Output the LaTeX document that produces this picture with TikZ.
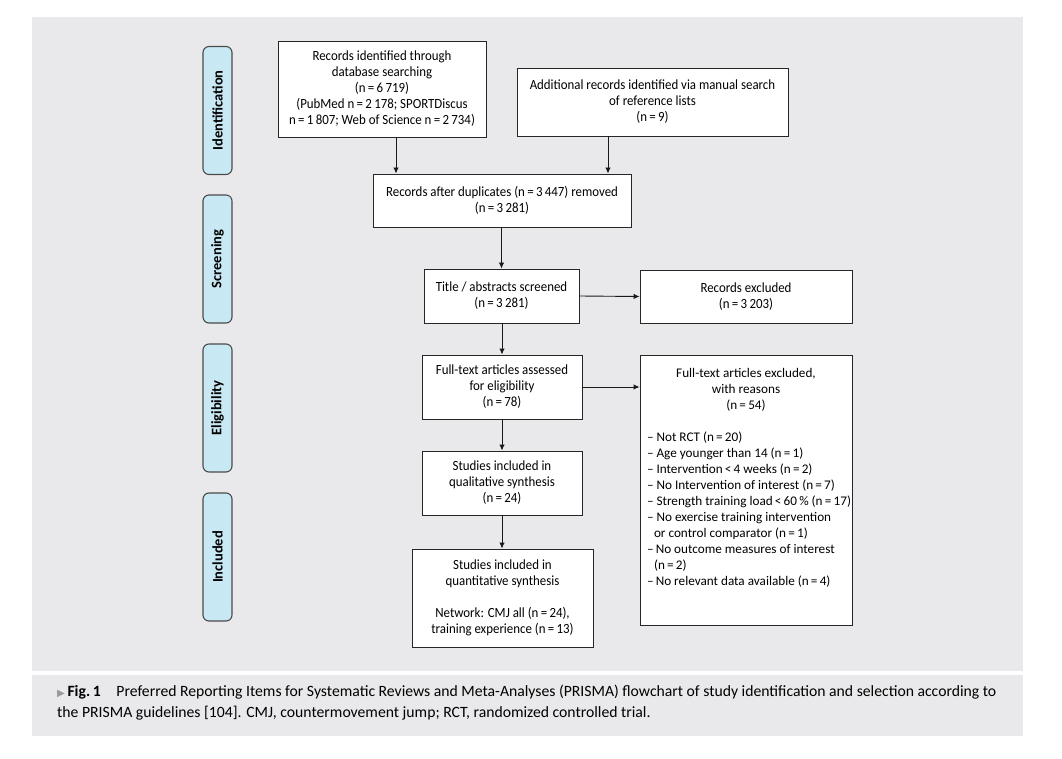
\documentclass[tikz,border=0pt]{standalone}
\usepackage{fontspec}
\setmainfont{Carlito}
\newfontfamily\boxfont[FakeStretch=0.92]{Carlito}
\newfontfamily\symfont{DejaVu Sans}
\usetikzlibrary{arrows.meta}
\definecolor{panelgray}{HTML}{E9E9EB}
\definecolor{sidecol}{HTML}{C8E8F4}
\definecolor{sideborder}{HTML}{4A4A4A}
\begin{document}
\begin{tikzpicture}[x=1pt,y=-1pt,
  box/.style={draw=black!85, line width=0.9pt, fill=white, align=center, inner sep=0pt,
    font=\boxfont\fontsize{14}{16}\selectfont},
  side/.style={draw=sideborder, line width=1.1pt, fill=sidecol, rounded corners=6pt,
    rotate=90, minimum width=128pt, minimum height=29pt, inner sep=0pt,
    font=\fontsize{14.5}{16}\selectfont\bfseries},
  arr/.style={-{Latex[length=6pt,width=5.5pt]}, line width=0.9pt, black!90}]
\useasboundingbox (0,0) rectangle (1062,759);
\fill[white] (0,0) rectangle (1062,759);
\fill[panelgray] (32,17) rectangle (1023,671);
\fill[panelgray] (32,675) rectangle (1023,736);

% sidebars
\node[side] (s1) at (217.5,110.5) {Identification};
\node[side] (s2) at (217.5,259) {Screening};
\node[side] (s3) at (217.5,408) {Eligibility};
\node[side] (s4) at (217.5,557) {Included};

% boxes
\node[box, minimum width=208pt, minimum height=96pt] (A) at (382,89)
  {Records identified through\\ database searching\\ (n\,=\,6\,719)\\
   (PubMed n\,=\,2\,178; SPORTDiscus\\ n\,=\,1\,807; Web of Science n\,=\,2\,734)};
\node[box, minimum width=271pt, minimum height=68pt] (B) at (652.5,102)
  {Additional records identified via manual search\\ of reference lists\\ (n\,=\,9)};
\node[box, minimum width=258pt, minimum height=53pt] (C) at (502,200.5)
  {Records after duplicates (n\,=\,3\,447) removed\\ (n\,=\,3\,281)};
\node[box, minimum width=155pt, minimum height=54pt] (D) at (501.5,296)
  {Title / abstracts screened\\ (n\,=\,3\,281)};
\node[box, minimum width=212pt, minimum height=53pt] (E) at (746,296.5)
  {Records excluded\\ (n\,=\,3\,203)};
\node[box, minimum width=160pt, minimum height=64pt] (F) at (502,387)
  {Full-text articles assessed\\ for eligibility\\ (n\,=\,78)};
\node[box, minimum width=212pt, minimum height=270pt] (G) at (746,490)
  {\begin{minipage}[c][244pt][t]{198pt}\rmfamily\fontsize{13.2}{16}\selectfont
   \centering Full-text articles excluded,\\ with reasons\\ (n\,=\,54)\par
   \vspace{16pt}\raggedright
   – Not RCT (n\,=\,20)\\
   – Age younger than 14 (n\,=\,1)\\
   – Intervention\,<\,4 weeks (n\,=\,2)\\
   – No Intervention of interest (n\,=\,7)\\
   \mbox{– Strength training load\,<\,60\,\% (n\,=\,17)}\\
   – No exercise training intervention\\
   \hspace*{7pt}or control comparator (n\,=\,1)\\
   –\,No outcome measures of interest\\
   \hspace*{7pt}(n\,=\,2)\\
   –\,No relevant data available (n\,=\,4)
   \end{minipage}};
\node[box, minimum width=160pt, minimum height=64pt] (H) at (502,483)
  {Studies included in\\ qualitative synthesis\\ (n\,=\,24)};
\node[box, minimum width=181pt, minimum height=98pt] (I) at (502.5,598)
  {Studies included in\\ quantitative synthesis\\[16pt] Network: CMJ all (n\,=\,24),\\ training experience (n\,=\,13)};

% connectors
\coordinate (xa) at (396,0);
\coordinate (xb) at (608,0);
\draw[arr] (A.south -| xa) -- (C.north -| xa);
\draw[arr] (B.south -| xb) -- (C.north -| xb);
\draw[arr] (C.south -| D.north) -- (D.north);
\draw[arr] (D.east) -- (E.west);
\draw[arr] (D.south -| F.north) -- (F.north);
\draw[arr] (F.east) -- (F.east -| G.west);
\draw[arr] (F.south) -- (H.north);
\draw[arr] (H.south) -- (H.south |- I.north);

% caption
\node[anchor=north west, align=left, inner sep=0pt, font=\fontsize{15.7}{21}\selectfont] (cap) at (57,685)
  {{\color{black!40}\symfont\fontsize{10}{10}\selectfont ▶}\,\textbf{Fig.\,1}\quad Preferred Reporting Items for Systematic Reviews and Meta-Analyses (PRISMA) flowchart of study identification and selection according to\\
   the PRISMA guidelines [104]. CMJ, countermovement jump; RCT, randomized controlled trial.};
\end{tikzpicture}
\end{document}
